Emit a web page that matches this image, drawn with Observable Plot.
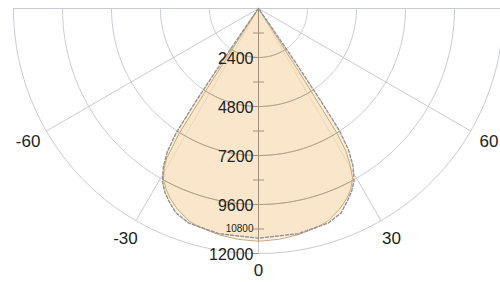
<!DOCTYPE html>
<html><head><meta charset="utf-8">
<script src="https://cdn.jsdelivr.net/npm/d3@7"></script>
<script src="https://cdn.jsdelivr.net/npm/@observablehq/plot@0.6"></script>
<style>html,body{margin:0;padding:0;background:#fff} svg{display:block}</style>
</head><body><div id="chart"></div>
<script>
// ---- data (degrees from nadir, negative = left; intensity in cd) ----
const solidAngles = [-90,-40,-33.5,-33,-32.7,-32.4,-31.5,-30.5,-29,-27,-25,-22,-18,-15,-10,-5,0,5,10,15,18,22,25,27,29,30.5,31.5,32.2,32.5,32.8,33.3,40,90];
const solidValues = [0,0,0,1500,4500,7300,8600,9100,9600,9950,10250,10600,10950,11100,11250,11350,11400,11350,11250,11100,10950,10600,10250,9950,9500,8800,8200,7200,4500,1500,0,0,0];
const dashedAngles = [-90,-40,-36,-35,-34.5,-34,-33.5,-32.5,-31,-29,-27,-25,-22,-18,-10,0,10,18,22,25,27,29,31,32.5,33.5,34,34.5,35,36,40,90];
const dashedValues = [0,0,0,800,3000,5500,7300,8300,9050,9700,10100,10400,10800,11050,11200,11250,11200,11050,10800,10350,10050,9650,9000,8200,7200,5500,3000,800,0,0,0];
const ringValues = [2400,4800,7200,9600,12000];
const ringLabels = ["2400","4800","7200","9600","12000"];
const minorTickValues = [1200,3600,6000,8400,10800];
const smallLabelValues = [10800];
const smallLabels = ["10800"];
const spokeAngles = [-90,-60,-30,0,30,60,90];
const angleLabelValues = [-60,-30,30,60];
const angleLabels = ["-60","-30","30","60"];
const nadirLabel = ["0"];

// ---- geometry helpers ----
const W = 500, H = 282;
const cx = 258, cy = 8, k = 245 / 12000;
const rad = d => d * Math.PI / 180;
const px = (t, r) => r * Math.sin(rad(t));
const py = (t, r) => r * Math.cos(rad(t));
const interp = (A, V, t) => {
  for (let i = 0; i < A.length - 1; i++) {
    if (t >= A[i] && t <= A[i + 1]) {
      const f = (t - A[i]) / (A[i + 1] - A[i]);
      return V[i] + f * (V[i + 1] - V[i]);
    }
  }
  return 0;
};
const fillAt = t => Math.max(interp(solidAngles, solidValues, t), interp(dashedAngles, dashedValues, t));

const solid = solidAngles.map((t, i) => ({x: px(t, solidValues[i]), y: py(t, solidValues[i])}));
const dashed = dashedAngles.map((t, i) => ({x: px(t, dashedValues[i]), y: py(t, dashedValues[i])}));

// grid arcs
const arcs = [];
ringValues.forEach(R => { for (let t = -90; t <= 90; t += 1) arcs.push({R, x: px(t, R), y: py(t, R)}); });
// inner (darker) arc segments inside the lit area
const innerArcs = [];
ringValues.forEach(R => { for (let t = -90; t <= 90; t += 0.25) if (fillAt(t) >= R) innerArcs.push({R, x: px(t, R), y: py(t, R)}); });
const spokes = spokeAngles.map(t => ({x2: px(t, 12000), y2: py(t, 12000)}));
const axisInner = [{y2: fillAt(0)}];

const rings = ringValues.map((v, i) => ({v, label: ringLabels[i]}));
const small = smallLabelValues.map((v, i) => ({v, label: smallLabels[i]}));
const angLab = angleLabelValues.map((t, i) => ({x: px(t, 13030), y: py(t, 13030), label: angleLabels[i]}));
const nadir = nadirLabel.map(l => ({x: 0, y: 12830, label: l}));

const gridLight = "#c9cbd2", gridDark = "#a3907a";

const plot = Plot.plot({
  width: W, height: H, margin: 0,
  x: {domain: [-cx / k, (W - cx) / k], range: [0, W], axis: null},
  y: {domain: [-cy / k, (H - cy) / k], range: [0, H], axis: null},
  style: {fontFamily: "'Liberation Sans', Arial, sans-serif", background: "#fff"},
  marks: [
    Plot.line(arcs, {x: "x", y: "y", z: "R", stroke: gridLight, strokeWidth: 1}),
    Plot.link(spokes, {x1: 0, y1: 0, x2: "x2", y2: "y2", stroke: gridLight, strokeWidth: 1}),
    Plot.area(dashed, {x1: "x", y1: "y", x2: 0, y2: 0, fill: "#f9dcb0", fillOpacity: 0.42}),
    Plot.area(solid, {x1: "x", y1: "y", x2: 0, y2: 0, fill: "#f9dcb0", fillOpacity: 0.42}),
    Plot.line(innerArcs, {x: "x", y: "y", z: "R", stroke: gridDark, strokeWidth: 1}),
    Plot.link(axisInner, {x1: 0, y1: 0, x2: 0, y2: "y2", stroke: gridDark, strokeWidth: 1}),
    Plot.line(solid, {x: "x", y: "y", stroke: "#cba77c", strokeWidth: 1}),
    Plot.line(dashed, {x: "x", y: "y", stroke: "#939393", strokeWidth: 1.4, strokeDasharray: "3,2"}),
    Plot.link(minorTickValues, {x1: -270, x2: 270, y1: d => d, y2: d => d, stroke: gridDark, strokeWidth: 1}),
    Plot.link(ringValues, {x1: -250, x2: 0, y1: d => d, y2: d => d, stroke: gridDark, strokeWidth: 1}),
    Plot.text(rings, {x: 0, y: "v", text: "label", textAnchor: "end", dx: -5, dy: 1, fontSize: 16, fill: "#222"}),
    Plot.text(small, {x: 0, y: "v", text: "label", textAnchor: "end", dx: -5, fontSize: 10, fill: "#222"}),
    Plot.text(angLab, {x: "x", y: "y", text: "label", textAnchor: "middle", fontSize: 17, fill: "#222"}),
    Plot.text(nadir, {x: "x", y: "y", text: "label", textAnchor: "middle", fontSize: 17, fill: "#222"})
  ]
});
document.getElementById("chart").appendChild(plot);
</script>
</body></html>
